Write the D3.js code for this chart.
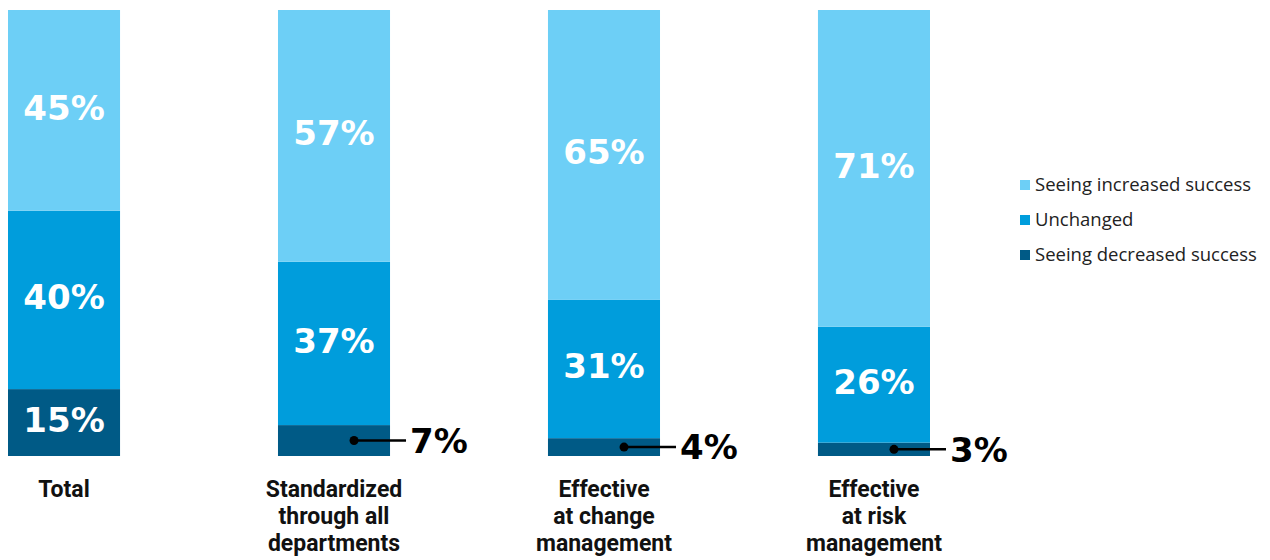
<!DOCTYPE html>
<html>
<head>
<meta charset="utf-8">
<script src="https://cdn.jsdelivr.net/npm/d3@7"></script>
<style>
  body { margin: 0; background: #fff; }
  svg { display: block; }
</style>
</head>
<body>
<div id="chart"></div>
<script>
const categories = [
  ["Total"],
  ["Standardized", "through all", "departments"],
  ["Effective", "at change", "management"],
  ["Effective", "at risk", "management"]
];
const seriesNames = ["Seeing decreased success", "Unchanged", "Seeing increased success"];
const decreased = [15, 7, 4, 3];
const unchanged = [40, 37, 31, 26];
const increased = [45, 57, 65, 71];
const colors = ["#005a86", "#009ddc", "#6dcff6"];

(() => {
  const width = 1270, height = 560;
  const top = 10, bottom = 456;

  const rows = categories.map((c, i) => {
    const vals = [decreased[i], unchanged[i], increased[i]];
    const total = d3.sum(vals);
    let acc = 0;
    const segs = vals.map((v, k) => {
      const s = { k, v, y0: acc / total, y1: (acc + v) / total };
      acc += v;
      return s;
    });
    return { i, name: c, segs };
  });

  const svg = d3.select("#chart").append("svg")
    .attr("width", width)
    .attr("height", height);

  const x = d3.scaleBand()
    .domain(rows.map(d => d.i))
    .range([8, 930])
    .paddingInner(0.585)
    .paddingOuter(0);

  const y = d3.scaleLinear().domain([0, 1]).range([bottom, top]);

  const bar = svg.selectAll(".bar")
    .data(rows)
    .enter().append("g")
    .attr("class", "bar");

  bar.selectAll("rect")
    .data(d => d.segs.map(s => ({ ...s, i: d.i })))
    .enter().append("rect")
    .attr("x", d => x(d.i))
    .attr("width", x.bandwidth())
    .attr("y", d => y(d.y1))
    .attr("height", d => y(d.y0) - y(d.y1))
    .attr("fill", d => colors[d.k]);

  // labels inside the segments
  bar.selectAll(".inlabel")
    .data(d => d.segs.filter(s => s.v >= 10).map(s => ({ ...s, i: d.i })))
    .enter().append("text")
    .attr("class", "inlabel")
    .attr("x", d => x(d.i) + x.bandwidth() / 2)
    .attr("y", d => (y(d.y0) + y(d.y1)) / 2 - 3)
    .attr("dy", "0.36em")
    .attr("text-anchor", "middle")
    .attr("fill", "#fff")
    .style("font-family", "'DejaVu Sans', sans-serif")
    .style("font-weight", "bold")
    .style("font-size", "34px")
    .text(d => d.v + "%");

  // small segments get a leader line and an outside label
  const small = rows.map(d => ({ ...d.segs[0], i: d.i })).filter(s => s.v < 10);

  const lead = svg.selectAll(".lead")
    .data(small)
    .enter().append("g")
    .attr("class", "lead");

  lead.append("line")
    .attr("x1", d => x(d.i) + x.bandwidth() - 36)
    .attr("x2", d => x(d.i) + x.bandwidth() + 16)
    .attr("y1", d => (y(d.y0) + y(d.y1)) / 2)
    .attr("y2", d => (y(d.y0) + y(d.y1)) / 2)
    .attr("stroke", "#000")
    .attr("stroke-width", 2.5);

  lead.append("circle")
    .attr("cx", d => x(d.i) + x.bandwidth() - 36)
    .attr("cy", d => (y(d.y0) + y(d.y1)) / 2)
    .attr("r", 4.5)
    .attr("fill", "#000");

  lead.append("text")
    .attr("x", d => x(d.i) + x.bandwidth() + 20)
    .attr("y", d => (y(d.y0) + y(d.y1)) / 2)
    .attr("dy", "0.36em")
    .attr("fill", "#000")
    .style("font-family", "'DejaVu Sans', sans-serif")
    .style("font-weight", "bold")
    .style("font-size", "34px")
    .text(d => d.v + "%");

  // category labels, one text per line
  const catLines = rows.flatMap(d => d.name.map((t, j) => ({ i: d.i, j, t })));
  svg.selectAll(".cat")
    .data(catLines)
    .enter().append("text")
    .attr("class", "cat")
    .attr("x", d => x(d.i) + x.bandwidth() / 2)
    .attr("y", d => 497 + d.j * 27)
    .attr("text-anchor", "middle")
    .attr("fill", "#111")
    .style("font-family", "Roboto, sans-serif")
    .style("font-weight", "bold")
    .style("font-size", "23px")
    .text(d => d.t);

  // legend
  const legendOrder = [2, 1, 0];
  const legend = svg.append("g").attr("transform", "translate(1020,185)");
  const item = legend.selectAll("g")
    .data(legendOrder)
    .enter().append("g")
    .attr("transform", (d, j) => `translate(0,${j * 35})`);

  item.append("rect")
    .attr("x", 0)
    .attr("y", -5)
    .attr("width", 10)
    .attr("height", 10)
    .attr("fill", d => colors[d]);

  item.append("text")
    .attr("x", 15)
    .attr("y", 0)
    .attr("dy", "0.35em")
    .attr("fill", "#222")
    .style("font-family", "'Open Sans', sans-serif")
    .style("font-size", "18.5px")
    .text(d => seriesNames[d]);
})();
</script>
</body>
</html>
